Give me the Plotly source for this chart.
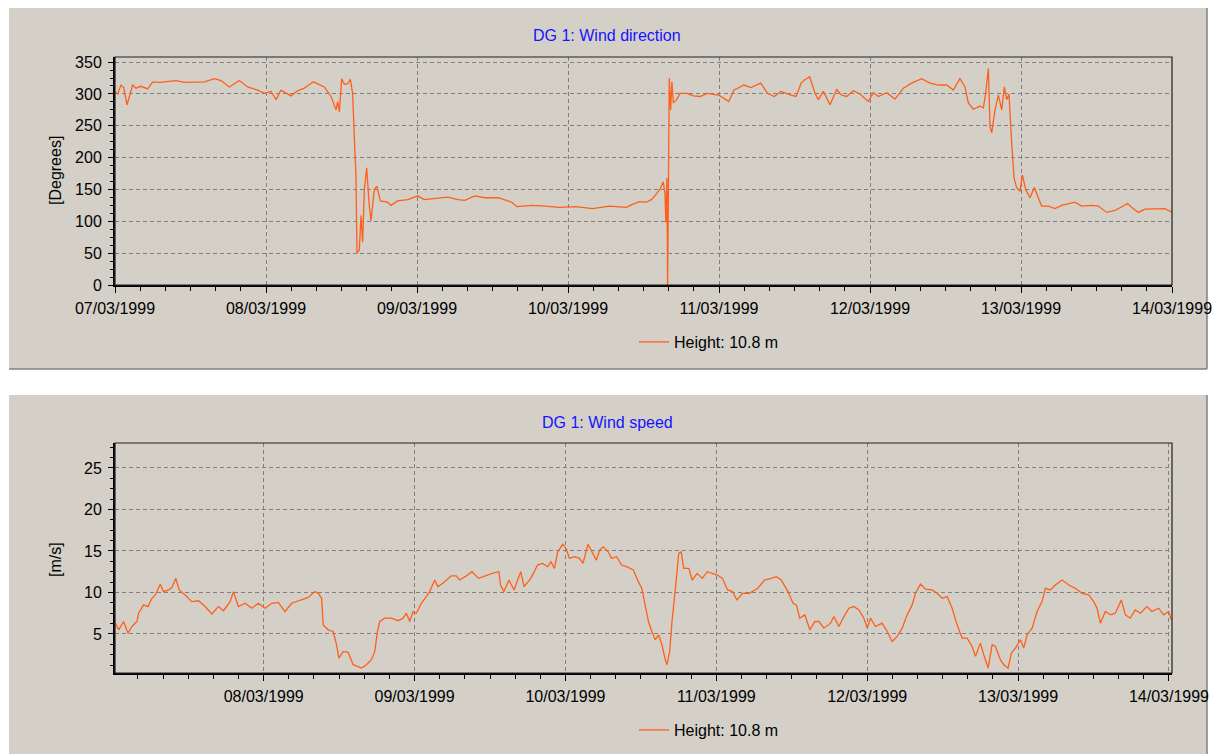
import pandas as pd
import plotly.graph_objects as go

START = pd.Timestamp("1999-03-07 00:00")

# Wind direction at 10.8 m: hours after 07/03/1999 00:00 and degrees
dir_hours = [
    0.0, 0.42, 0.95, 1.38, 1.91, 2.28, 2.81, 3.34, 4.13, 5.19, 5.99, 7.05, 8.37, 9.70,
    11.02, 12.61, 14.20, 15.79, 16.85, 18.17, 19.76, 21.09, 22.68, 23.74, 24.79, 25.59,
    26.38, 27.97, 29.03, 30.09, 31.52, 33.27, 34.33, 35.13, 35.39, 35.66, 36.03, 36.45,
    36.98, 37.40, 37.77, 38.04, 38.30, 38.46, 38.83, 39.10, 39.36, 39.63, 40.00, 40.42,
    40.69, 41.22, 41.64, 42.17, 43.34, 43.87, 44.93, 46.52, 48.11, 49.17, 51.28, 52.87,
    54.51, 55.58, 57.19, 58.79, 60.93, 62.00, 63.07, 63.87, 66.28, 68.42, 70.56, 73.23,
    75.90, 78.58, 81.25, 82.32, 83.39, 84.46, 85.26, 85.80, 86.60, 87.13, 87.40, 87.56,
    87.72, 87.83, 87.99, 88.10, 88.31, 88.52, 88.74, 89.27, 89.81, 90.88, 91.95, 93.02,
    94.09, 95.96, 97.56, 98.36, 99.97, 101.04, 102.64, 103.71, 104.78, 105.85, 107.45,
    108.26, 109.06, 109.59, 110.40, 111.26, 111.79, 112.58, 113.64, 114.70, 115.50,
    116.29, 117.35, 118.41, 119.74, 120.53, 121.32, 122.65, 123.97, 125.30, 126.62,
    128.21, 129.54, 130.86, 132.19, 133.25, 134.30, 135.10, 135.63, 136.42, 137.48,
    138.01, 138.38, 138.81, 139.07, 139.34, 139.87, 140.40, 140.93, 141.35, 141.72,
    142.09, 142.52, 142.89, 143.31, 143.84, 144.21, 144.74, 145.43, 146.12, 146.75,
    147.28, 148.34, 149.40, 150.46, 152.58, 153.64, 155.23, 156.29, 157.62, 158.94,
    160.95, 161.59, 162.65, 163.71, 165.30, 166.89, 167.84, 168.00,
]
dir_deg = [
    303, 300, 314, 310, 283, 296, 314, 309, 312, 308, 319, 318, 320, 321,
    318, 319, 319, 324, 321, 311, 321, 311, 306, 301, 304, 291,
    306, 297, 305, 309, 319, 311, 296, 275, 288, 272, 324, 315,
    316, 323, 301, 231, 171, 50, 55, 109, 67, 150, 184, 124,
    101, 150, 155, 132, 130, 125, 132, 134, 140, 134, 136, 138,
    134, 133, 140, 137, 137, 134, 130, 123, 125, 124, 122, 123,
    120, 124, 122, 127, 131, 130, 134, 140, 150, 162, 145, 98,
    168, 0, 166, 325, 275, 319, 286, 291, 301, 301, 297, 296,
    301, 298, 288, 306, 314, 310, 317, 301, 296, 304, 298,
    296, 317, 322, 327, 301, 291, 304, 283, 307, 298,
    296, 305, 300, 288, 302, 296, 302, 292, 309, 317,
    324, 317, 314, 314, 306, 324, 311, 286, 276, 281,
    278, 301, 340, 249, 239, 275, 298, 275, 311, 291,
    300, 223, 168, 153, 147, 173, 150, 137, 153, 137,
    124, 124, 120, 125, 130, 124, 125, 124, 114, 117,
    128, 122, 114, 119, 119, 120, 115, 116,
]

# Wind speed at 10.8 m: hours after 07/03/1999 00:00 and m/s
spd_hours = [
    0.42, 0.93, 1.72, 2.41, 3.05, 3.84, 4.11, 4.90, 5.59, 6.22, 6.75, 7.55, 8.07, 8.87,
    9.40, 10.03, 10.56, 11.51, 12.57, 13.63, 14.69, 15.75, 16.80, 17.60, 18.66, 19.19,
    19.98, 21.04, 22.10, 23.15, 24.21, 25.27, 26.33, 27.39, 28.44, 30.03, 31.09, 32.15,
    32.68, 33.21, 33.47, 34.26, 35.06, 35.59, 35.96, 36.65, 37.44, 38.23, 39.03, 39.56,
    40.35, 41.14, 41.67, 42.10, 42.47, 43.26, 44.32, 45.38, 46.17, 46.70, 47.23, 47.76,
    48.29, 49.08, 49.87, 50.40, 51.20, 51.72, 52.78, 53.84, 54.63, 55.16, 56.06, 57.13,
    58.20, 59.54, 60.34, 61.41, 61.68, 62.21, 63.02, 63.82, 64.89, 65.42, 66.49, 67.56,
    68.36, 69.17, 69.70, 70.24, 70.77, 71.57, 72.11, 72.64, 73.44, 74.25, 74.78, 75.58,
    76.12, 76.92, 77.45, 77.99, 78.79, 79.33, 80.13, 80.93, 81.73, 82.80, 83.60, 84.14,
    84.67, 85.21, 85.74, 86.28, 86.81, 87.35, 87.88, 88.15, 88.58, 88.95, 89.49, 90.02,
    90.40, 90.82, 91.63, 92.16, 92.96, 93.76, 94.57, 95.37, 96.17, 96.97, 97.78, 98.58,
    99.27, 100.18, 101.25, 102.59, 103.66, 104.73, 105.53, 106.33, 107.40, 108.20,
    108.74, 109.27, 110.07, 110.88, 111.68, 112.32, 113.11, 114.17, 114.70, 115.50,
    116.29, 117.09, 117.88, 118.68, 119.47, 120.00, 120.53, 121.32, 122.38, 123.18,
    123.97, 124.77, 125.56, 126.36, 127.15, 127.68, 128.48, 129.27, 130.33, 131.13,
    131.92, 132.72, 133.51, 134.30, 135.10, 135.89, 136.69, 137.22, 138.01, 138.54,
    139.23, 139.87, 140.40, 141.19, 141.72, 142.41, 142.94, 143.58, 144.37, 144.90,
    145.43, 146.23, 147.02, 147.81, 148.34, 149.14, 149.93, 150.99, 152.05, 153.11,
    154.17, 155.23, 156.03, 156.56, 157.09, 157.88, 158.68, 159.47, 160.42, 161.06,
    161.85, 162.65, 163.44, 164.50, 165.30, 166.36, 167.15, 167.95, 168.37,
]
spd_ms = [
    6.3, 5.5, 6.5, 5.1, 5.9, 6.5, 7.5, 8.5, 8.3, 9.3, 9.7, 11.0, 10.1, 10.3,
    10.6, 11.7, 10.3, 9.7, 8.9, 9.0, 8.3, 7.4, 8.3, 7.8, 8.9, 10.1,
    8.3, 8.7, 8.1, 8.7, 8.1, 8.7, 8.8, 7.7, 8.7, 9.1, 9.4, 10.1,
    9.9, 9.3, 6.1, 5.5, 5.3, 3.7, 2.1, 2.9, 2.8, 1.3, 1.1, 0.9,
    1.3, 1.9, 2.9, 5.3, 6.5, 6.9, 6.9, 6.6, 6.9, 7.5, 6.5, 7.7,
    7.5, 8.7, 9.5, 10.1, 11.5, 10.7, 11.3, 12.0, 12.0, 11.5, 11.9, 12.5,
    11.7, 12.1, 12.3, 12.5, 10.9, 10.1, 11.5, 10.3, 12.5, 10.7, 11.7, 13.3,
    13.5, 13.1, 13.7, 12.9, 14.9, 15.8, 15.3, 14.1, 14.3, 14.1, 13.5, 15.8,
    15.1, 13.9, 15.1, 15.5, 14.9, 14.1, 14.3, 13.3, 13.1, 12.7, 11.3, 10.5,
    8.5, 6.5, 5.3, 4.3, 4.9, 3.7, 1.9, 1.3, 2.9, 6.5, 10.5, 14.7,
    14.9, 12.9, 12.9, 11.5, 12.3, 11.7, 12.5, 12.3, 12.1, 11.7, 10.3, 10.1,
    9.1, 9.9, 9.9, 10.5, 11.5, 11.7, 11.9, 11.5, 10.1, 8.7,
    8.5, 6.9, 7.3, 5.5, 6.5, 6.5, 5.7, 6.3, 7.1, 5.9,
    7.1, 8.1, 8.3, 7.9, 6.9, 5.7, 6.9, 5.9, 6.3, 5.3,
    4.1, 4.7, 5.7, 7.3, 8.5, 9.9, 11.0, 10.4, 10.3, 9.9,
    9.3, 9.5, 8.1, 6.1, 4.5, 4.5, 3.5, 2.3, 3.9, 2.5,
    0.9, 3.7, 3.5, 1.9, 1.3, 0.9, 2.7, 3.3, 4.3, 3.3,
    4.9, 5.7, 7.7, 8.9, 10.5, 10.3, 10.9, 11.5, 10.9, 10.5,
    9.9, 9.7, 8.9, 8.1, 6.3, 7.7, 7.3, 7.5, 9.1, 7.3,
    6.9, 7.9, 7.5, 8.3, 7.7, 8.1, 7.3, 7.7, 6.7,
]

SERIES_NAME = "Height: 10.8 m"
TITLE_DIR = "DG 1: Wind direction"
TITLE_SPD = "DG 1: Wind speed"
YTITLE_DIR = "[Degrees]"
YTITLE_SPD = "[m/s]"

# ---- styling ----
W, H = 1212, 754
PANEL = "#d4d0c8"
LINE = "#ff5f1a"
GRID = "#808080"
FONT = "Liberation Sans, Arial, sans-serif"
FS = 16


def fx(p):
    return p / W


def fy(p):
    return 1 - p / H


def to_time(hours):
    return [START + pd.Timedelta(hours=h) for h in hours]


fig = go.Figure()
fig.add_trace(go.Scatter(
    x=to_time(dir_hours), y=dir_deg, mode="lines", name=SERIES_NAME,
    line=dict(color=LINE, width=1.3), xaxis="x", yaxis="y", legend="legend",
))
fig.add_trace(go.Scatter(
    x=to_time(spd_hours), y=spd_ms, mode="lines", name=SERIES_NAME,
    line=dict(color=LINE, width=1.3), xaxis="x2", yaxis="y2", legend="legend2",
))

DAY_MS = 86400000
common_x = dict(
    type="date", tickformat="%d/%m/%Y", dtick=DAY_MS, tick0="1999-03-07",
    showgrid=True, gridcolor=GRID, griddash="4px,3px", gridwidth=1,
    showline=True, linecolor="black", linewidth=2, mirror=False,
    ticks="outside", ticklen=6, tickcolor="black", tickwidth=1,
    minor=dict(dtick=4 * 3600 * 1000, ticks="outside", ticklen=4,
               tickcolor="black", showgrid=False),
    tickfont=dict(family=FONT, size=FS, color="black"),
    ticklabelstandoff=2, ticklabeloverflow="allow",
    zeroline=False, fixedrange=True, automargin=False,
)
common_y = dict(
    showgrid=True, gridcolor=GRID, griddash="4px,3px", gridwidth=1,
    showline=True, linecolor="black", linewidth=2, mirror=False,
    ticks="outside", ticklen=5, tickcolor="black", tickwidth=1,
    tickfont=dict(family=FONT, size=FS, color="black"),
    ticklabelstandoff=3, zeroline=False, fixedrange=True, automargin=False,
)

x_dom = [fx(115), fx(1172)]
fig.update_layout(
    width=W, height=H,
    margin=dict(l=0, r=0, t=0, b=0, pad=0, autoexpand=False),
    paper_bgcolor="white", plot_bgcolor=PANEL,
    hovermode=False,
    xaxis=dict(common_x, domain=x_dom, anchor="y",
               range=["1999-03-07 00:00", "1999-03-14 00:00"]),
    yaxis=dict(common_y, domain=[fy(285), fy(57)], anchor="x",
               range=[0, 358], dtick=50, tick0=0,
               minor=dict(dtick=12.5, ticks="outside", ticklen=3,
                          tickcolor="black", showgrid=False)),
    xaxis2=dict(common_x, domain=x_dom, anchor="y2",
                range=["1999-03-07 00:21", "1999-03-14 00:29"]),
    yaxis2=dict(common_y, domain=[fy(673), fy(443)], anchor="x2",
                range=[0.3, 28], dtick=5, tick0=0,
                minor=dict(dtick=1.25, ticks="outside", ticklen=3,
                           tickcolor="black", showgrid=False)),
    legend=dict(x=fx(634), y=fy(342), xanchor="left", yanchor="middle",
                bgcolor="rgba(0,0,0,0)", itemwidth=30,
                font=dict(family=FONT, size=FS, color="black")),
    legend2=dict(x=fx(634), y=fy(730), xanchor="left", yanchor="middle",
                 bgcolor="rgba(0,0,0,0)", itemwidth=30,
                 font=dict(family=FONT, size=FS, color="black")),
    showlegend=True,
)

shapes = []
# panel backgrounds with a darker bottom/right edge
for top, bottom in [(8, 369), (395, 760)]:
    shapes.append(dict(type="rect", xref="paper", yref="paper", layer="below",
                       x0=fx(9), x1=fx(1207), y0=fy(bottom), y1=fy(top),
                       fillcolor=PANEL, line=dict(width=0)))
    shapes.append(dict(type="line", xref="paper", yref="paper", layer="below",
                       x0=fx(1207), x1=fx(1207), y0=fy(bottom), y1=fy(top),
                       line=dict(color=GRID, width=1.5)))
    shapes.append(dict(type="line", xref="paper", yref="paper", layer="below",
                       x0=fx(9), x1=fx(1207), y0=fy(bottom), y1=fy(bottom),
                       line=dict(color=GRID, width=1.5)))
# thin frame around each plot area
for xa, ya in [("x", "y"), ("x2", "y2")]:
    shapes.append(dict(type="rect", xref=f"{xa} domain", yref=f"{ya} domain",
                       x0=0, x1=1, y0=0, y1=1, layer="above",
                       line=dict(color="#202020", width=1.2)))
fig.update_layout(shapes=shapes)

annotations = [
    dict(text=TITLE_DIR, x=fx(607), y=fy(35)),
    dict(text=TITLE_SPD, x=fx(607), y=fy(422)),
]
for a in annotations:
    a.update(xref="paper", yref="paper", showarrow=False,
             xanchor="center", yanchor="middle",
             font=dict(family=FONT, size=FS, color="#1414ff"))
for text, yc in [(YTITLE_DIR, 171), (YTITLE_SPD, 560)]:
    annotations.append(dict(text=text, x=fx(55), y=fy(yc), xref="paper", yref="paper",
                            showarrow=False, textangle=-90,
                            xanchor="center", yanchor="middle",
                            font=dict(family=FONT, size=FS, color="black")))
fig.update_layout(annotations=annotations)

fig.write_html("out.html")
